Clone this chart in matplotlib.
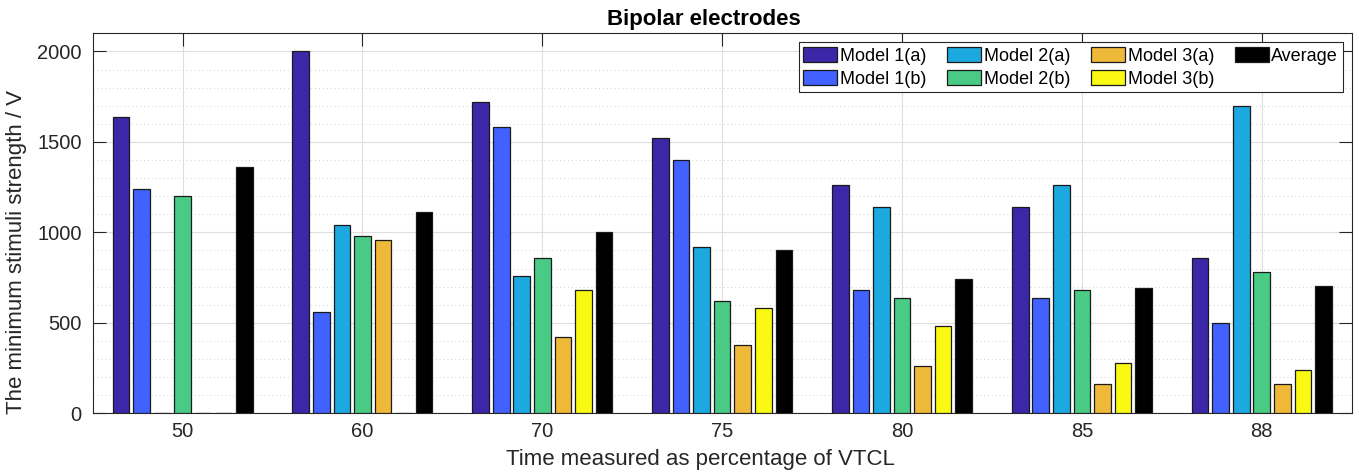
import numpy as np
import matplotlib.pyplot as plt

plt.rcParams['font.family'] = ['Liberation Sans', 'DejaVu Sans']

# Data
categories = ['50', '60', '70', '75', '80', '85', '88']
series_names = ['Model 1(a)', 'Model 1(b)', 'Model 2(a)', 'Model 2(b)',
                'Model 3(a)', 'Model 3(b)', 'Average']
model1a = [1640, 2000, 1720, 1520, 1260, 1140, 860]
model1b = [1240, 560, 1580, 1400, 680, 640, 500]
model2a = [0, 1040, 760, 920, 1140, 1260, 1700]
model2b = [1200, 980, 860, 620, 640, 680, 780]
model3a = [0, 960, 420, 380, 260, 160, 160]
model3b = [0, 0, 680, 580, 480, 280, 240]
average = [1360, 1110, 1000, 900, 740, 690, 705]
colors = ['#3D27A9', '#4262FF', '#1CA9DF', '#4ACB85', '#EEB838', '#F9F913', '#000000']

series = [model1a, model1b, model2a, model2b, model3a, model3b, average]

fig = plt.figure(figsize=(13.59, 4.76), dpi=100)
ax = fig.add_axes([0.0682, 0.1317, 0.9264, 0.7983])

x = np.arange(len(categories))
n = len(series)
pitch = 0.8 / n
width = pitch * 0.81
for i, (vals, name, c) in enumerate(zip(series, series_names, colors)):
    ax.bar(x + (i - (n - 1) / 2) * pitch, vals, width, color=c,
           edgecolor='#1a1a1a', linewidth=0.9, label=name, zorder=3)

ax.set_xlim(-0.5, len(categories) - 0.5)
ax.set_ylim(0, 2100)
ax.set_xticks(x)
ax.set_xticklabels(categories)
ax.set_yticks([0, 500, 1000, 1500, 2000])
ax.set_yticks(np.arange(0, 2101, 100), minor=True)
ax.tick_params(axis='both', which='both', direction='in', top=True, right=True,
               labelsize=14.5, colors='#262626', length=9.3, width=0.8)
ax.tick_params(axis='y', which='minor', length=0)
ax.tick_params(axis='x', pad=6)
ax.tick_params(axis='y', pad=8)

ax.grid(True, which='major', color='#dedede', linewidth=0.8, zorder=0)
ax.grid(True, which='minor', axis='y', color='#d0d0d0', linestyle=(0, (1, 3)),
        linewidth=0.7, zorder=0)
for s in ax.spines.values():
    s.set_color('#262626')
    s.set_linewidth(0.8)

ax.set_xlabel('Time measured as percentage of VTCL', fontsize=16, color='#262626')
ax.set_ylabel('The minimum stimuli strength / V', fontsize=16, color='#262626')
ax.xaxis.set_label_coords(0.483, -0.095)
ax.yaxis.set_label_coords(-0.052, 0.424)
ax.set_title('Bipolar electrodes', fontsize=16, fontweight='bold', pad=6, x=0.4856)

leg = ax.legend(ncol=4, loc='upper right', fontsize=13, fancybox=False,
                edgecolor='#262626', framealpha=1, handlelength=1.88,
                handleheight=0.94, handletextpad=0.15, columnspacing=1.15,
                labelspacing=0.28, borderpad=0.25, borderaxespad=0.5)
leg.get_frame().set_linewidth(0.8)

fig.savefig('out.png', dpi=100)
